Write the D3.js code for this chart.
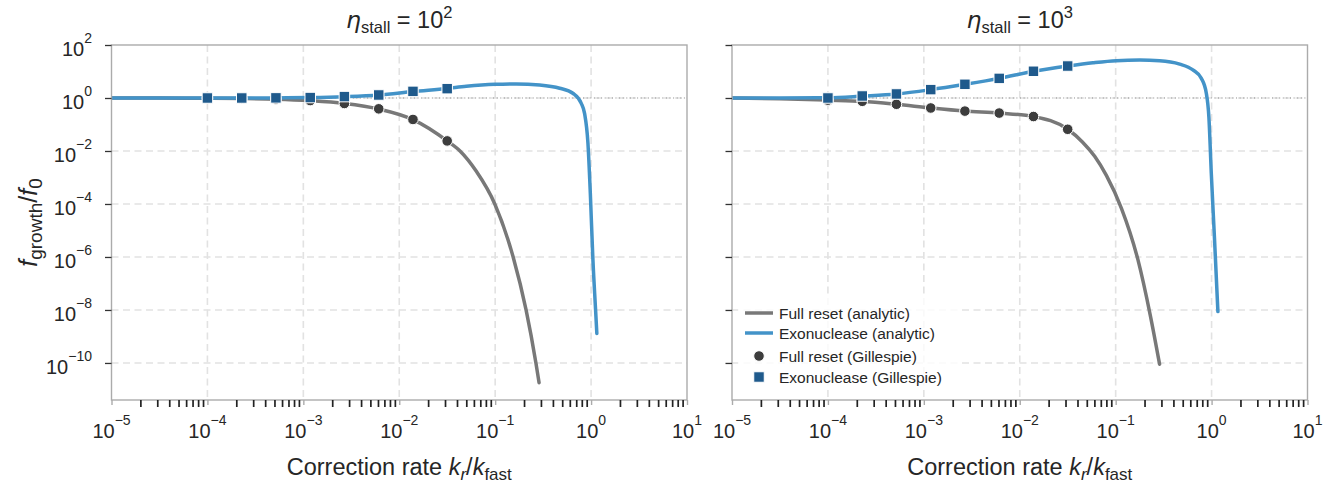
<!DOCTYPE html>
<html>
<head>
<meta charset="utf-8">
<script src="https://cdn.jsdelivr.net/npm/d3@7"></script>
<style>
  html, body { margin: 0; padding: 0; background: #ffffff; }
  svg { display: block; font-family: "Liberation Sans", Arial, sans-serif; }
</style>
</head>
<body>
<svg id="chart" width="1340" height="482"></svg>
<script>
// Axis decades
const xTickExponents = [-5, -4, -3, -2, -1, 0, 1];
const yTickExponents = [2, 0, -2, -4, -6, -8, -10];
const panelEtaExponents = [2, 3];

// Correction rates sampled by the stochastic (Gillespie) runs
const gillespieRates = [1.0e-4, 2.28e-4, 5.18e-4, 1.18e-3, 2.68e-3, 6.11e-3, 1.39e-2, 3.16e-2];

// eta_stall = 10^2 : analytic curves
const resetRates_eta2 = [1e-5, 3.16e-5, 1e-4, 2.28e-4, 5.18e-4, 1.18e-3, 2.68e-3, 6.11e-3, 1.39e-2, 3.16e-2, 4.3e-2, 6.31e-2, 9.91e-2, 0.154, 0.210, 0.266, 0.287];
const resetGrowth_eta2 = [0.998, 0.994, 0.98, 0.957, 0.906, 0.79, 0.62, 0.385, 0.153, 0.024, 1e-2, 1.78e-3, 1e-4, 1e-6, 1e-8, 1e-10, 1.8e-11];
const exoRates_eta2 = [1e-5, 1e-4, 2.28e-4, 5.18e-4, 1.18e-3, 2.68e-3, 6.11e-3, 1.39e-2, 3.16e-2, 5.0e-2, 0.1, 0.166, 0.291, 0.47, 0.645, 0.79, 0.855, 0.927, 0.982, 1.045, 1.114, 1.148];
const exoGrowth_eta2 = [1.0, 1.0, 1.003, 1.01, 1.04, 1.12, 1.29, 1.75, 2.3, 2.75, 3.27, 3.39, 3.09, 2.34, 1.51, 0.63, 0.263, 0.02, 2.5e-4, 7.9e-7, 1e-8, 1.3e-9];
// eta_stall = 10^2 : Gillespie estimates
const resetGillespie_eta2 = [0.99, 0.96, 0.91, 0.80, 0.62, 0.39, 0.155, 0.024];
const exoGillespie_eta2 = [1.0, 1.0, 1.01, 1.04, 1.13, 1.30, 1.78, 2.25];

// eta_stall = 10^3 : analytic curves
const resetRates_eta3 = [1e-5, 3.16e-5, 1e-4, 2.28e-4, 5.18e-4, 1.18e-3, 2.68e-3, 6.11e-3, 1.39e-2, 3.16e-2, 4.5e-2, 6.04e-2, 8.0e-2, 0.1146, 0.1706, 0.2296, 0.287];
const resetGrowth_eta3 = [0.99, 0.93, 0.83, 0.75, 0.58, 0.42, 0.32, 0.27, 0.20, 0.066, 0.022, 6.3e-3, 1.2e-3, 7e-5, 7.9e-7, 6.3e-9, 9e-11];
const exoRates_eta3 = [1e-5, 3.16e-5, 1e-4, 2.28e-4, 5.18e-4, 1.18e-3, 2.68e-3, 6.11e-3, 1.39e-2, 3.16e-2, 5.8e-2, 0.1016, 0.178, 0.287, 0.465, 0.638, 0.782, 0.881, 0.937, 0.993, 1.074, 1.164];
const exoGrowth_eta3 = [1.0, 1.0, 1.02, 1.18, 1.42, 2.07, 3.29, 5.5, 10.2, 16.1, 21.4, 25.7, 26.9, 25.7, 19.1, 11.5, 5.5, 1.51, 0.195, 1.45e-3, 4.4e-6, 8.7e-9];
// eta_stall = 10^3 : Gillespie estimates
const resetGillespie_eta3 = [0.83, 0.75, 0.58, 0.42, 0.32, 0.27, 0.20, 0.066];
const exoGillespie_eta3 = [1.0, 1.19, 1.42, 2.07, 3.29, 5.5, 10.2, 16.1];

const legendLabels = ["Full reset (analytic)", "Exonuclease (analytic)", "Full reset (Gillespie)", "Exonuclease (Gillespie)"];

// ---- styling ----
const COLORS = {
  reset: "#787878",
  exo: "#4393c8",
  resetMarker: "#3d3d3d",
  exoMarker: "#1f5a8c",
  grid: "#e2e2e2",
  frame: "#ababab",
  text: "#262626"
};

const zip = (xs, ys) => xs.map((v, i) => [v, ys[i]]);

const panels = [
  {
    left: 111.5, eta: panelEtaExponents[0], showYLabels: true,
    reset: zip(resetRates_eta2, resetGrowth_eta2),
    exo: zip(exoRates_eta2, exoGrowth_eta2),
    resetPts: zip(gillespieRates, resetGillespie_eta2),
    exoPts: zip(gillespieRates, exoGillespie_eta2),
    legend: false
  },
  {
    left: 732, eta: panelEtaExponents[1], showYLabels: false,
    reset: zip(resetRates_eta3, resetGrowth_eta3),
    exo: zip(exoRates_eta3, exoGrowth_eta3),
    resetPts: zip(gillespieRates, resetGillespie_eta3),
    exoPts: zip(gillespieRates, exoGillespie_eta3),
    legend: true
  }
];

const TOP = 45, W = 575.5, H = 355;

const x = d3.scaleLog().domain([1e-5, 10]).range([0, W]);
const y = d3.scaleLog().domain([4e-12, 100]).range([H, 0]);

const svg = d3.select("#chart");

const minorTicks = [];
xTickExponents.slice(0, -1).forEach(e => {
  for (let m = 2; m <= 9; m++) minorTicks.push(m * Math.pow(10, e));
});

const line = d3.line()
  .x(d => x(d[0]))
  .y(d => y(d[1]))
  .curve(d3.curveMonotoneX);

function powerLabel(sel, exp, mainSize, supSize, supShift) {
  sel.append("tspan").text("10").attr("font-size", mainSize);
  sel.append("tspan").text(exp < 0 ? "\u2212" + Math.abs(exp) : String(exp))
    .attr("font-size", supSize).attr("dy", -supShift);
}

panels.forEach((p, idx) => {
  const g = svg.append("g").attr("transform", `translate(${p.left},${TOP})`);

  const clipId = "clip" + idx;
  g.append("clipPath").attr("id", clipId)
    .append("rect").attr("x", 0).attr("y", 0).attr("width", W).attr("height", H);

  // dashed grid
  const grid = g.append("g");
  grid.selectAll("line.gx")
    .data(xTickExponents.slice(1, -1).map(e => Math.pow(10, e)))
    .join("line")
    .attr("x1", d => x(d)).attr("x2", d => x(d))
    .attr("y1", 0).attr("y2", H)
    .attr("stroke", COLORS.grid).attr("stroke-width", 1.6)
    .attr("stroke-dasharray", "7,4.5");
  grid.selectAll("line.gy")
    .data(yTickExponents.slice(1).map(e => Math.pow(10, e)))
    .join("line")
    .attr("x1", 0).attr("x2", W)
    .attr("y1", d => y(d)).attr("y2", d => y(d))
    .attr("stroke", COLORS.grid).attr("stroke-width", 1.6)
    .attr("stroke-dasharray", "7,4.5");

  // reference level f_growth = f_0
  g.append("line")
    .attr("x1", 0).attr("x2", W)
    .attr("y1", y(1)).attr("y2", y(1))
    .attr("stroke", "#808080").attr("stroke-width", 0.9)
    .attr("stroke-dasharray", "1,2.6");

  const plot = g.append("g").attr("clip-path", `url(#${clipId})`);

  plot.append("path").datum(p.reset)
    .attr("d", line).attr("fill", "none")
    .attr("stroke", COLORS.reset).attr("stroke-width", 3.5)
    .attr("stroke-linecap", "round");
  plot.append("path").datum(p.exo)
    .attr("d", line).attr("fill", "none")
    .attr("stroke", COLORS.exo).attr("stroke-width", 3.5)
    .attr("stroke-linecap", "round");

  plot.selectAll("circle.reset").data(p.resetPts).join("circle")
    .attr("cx", d => x(d[0])).attr("cy", d => y(d[1])).attr("r", 5.3)
    .attr("fill", COLORS.resetMarker).attr("stroke", "#ffffff").attr("stroke-width", 1);
  const S = 10.5;
  plot.selectAll("rect.exo").data(p.exoPts).join("rect")
    .attr("x", d => x(d[0]) - S / 2).attr("y", d => y(d[1]) - S / 2)
    .attr("width", S).attr("height", S)
    .attr("fill", COLORS.exoMarker).attr("stroke", "#ffffff").attr("stroke-width", 1);

  // frame
  g.append("rect").attr("x", 0).attr("y", 0).attr("width", W).attr("height", H)
    .attr("fill", "none").attr("stroke", COLORS.frame).attr("stroke-width", 1.4);

  // x axis: minor ticks (dark) and major ticks (spine colour)
  const xMinor = g.append("g").attr("transform", `translate(0,${H})`)
    .call(d3.axisBottom(x).tickValues(minorTicks).tickSize(7).tickFormat(""));
  xMinor.select(".domain").remove();
  xMinor.selectAll(".tick line").attr("stroke", "#222").attr("stroke-width", 1.7);

  const xMajor = g.append("g").attr("transform", `translate(0,${H})`)
    .call(d3.axisBottom(x).tickValues(xTickExponents.map(e => Math.pow(10, e))).tickSize(5).tickFormat(""));
  xMajor.select(".domain").remove();
  xMajor.selectAll(".tick line").attr("stroke", COLORS.frame).attr("stroke-width", 1.4);

  xTickExponents.forEach(e => {
    const t = g.append("text")
      .attr("x", x(Math.pow(10, e)))
      .attr("y", H + 38)
      .attr("text-anchor", "middle")
      .attr("fill", COLORS.text);
    powerLabel(t, e, 20, 14, 13);
  });

  // y axis ticks
  const yAx = g.append("g")
    .call(d3.axisLeft(y).tickValues(yTickExponents.map(e => Math.pow(10, e))).tickSize(6.5).tickFormat(""));
  yAx.select(".domain").remove();
  yAx.selectAll(".tick line").attr("stroke", "#333").attr("stroke-width", 1.3);

  if (p.showYLabels) {
    yTickExponents.forEach(e => {
      const t = g.append("text")
        .attr("x", -19.5)
        .attr("y", y(Math.pow(10, e)) + 11)
        .attr("text-anchor", "end")
        .attr("fill", COLORS.text);
      powerLabel(t, e, 20, 14, 13);
    });
  }

  // panel title
  const title = g.append("text")
    .attr("x", W / 2).attr("y", -17)
    .attr("text-anchor", "middle")
    .attr("fill", COLORS.text)
    .attr("font-size", 23.5);
  title.append("tspan").text("\u03B7").attr("font-style", "italic").attr("font-family", "DejaVu Sans");
  title.append("tspan").text("stall").attr("font-size", 16.5).attr("dy", 5);
  title.append("tspan").text(" = 10").attr("dy", -5);
  title.append("tspan").text(String(p.eta)).attr("font-size", 16.5).attr("dy", -10);

  // x axis title
  const xl = g.append("text")
    .attr("x", W / 2).attr("y", H + 75)
    .attr("text-anchor", "middle")
    .attr("fill", COLORS.text)
    .attr("font-size", 23.5);
  xl.append("tspan").text("Correction rate ");
  xl.append("tspan").text("k").attr("font-style", "italic");
  xl.append("tspan").text("r").attr("font-style", "italic").attr("font-size", 17).attr("dy", 4.5);
  xl.append("tspan").text("/").attr("dy", -4.5);
  xl.append("tspan").text("k").attr("font-style", "italic");
  xl.append("tspan").text("fast").attr("font-size", 17).attr("dy", 4.5);

  if (p.legend) {
    const lg = g.append("g").attr("transform", "translate(6,252)");
    lg.append("rect").attr("x", 0).attr("y", 0).attr("width", 220).attr("height", 92)
      .attr("fill", "#ffffff").attr("fill-opacity", 0.8);
    const rowY = [16, 36, 59, 80];
    lg.append("line").attr("x1", 7).attr("x2", 35).attr("y1", rowY[0]).attr("y2", rowY[0])
      .attr("stroke", COLORS.reset).attr("stroke-width", 3.5);
    lg.append("line").attr("x1", 7).attr("x2", 35).attr("y1", rowY[1]).attr("y2", rowY[1])
      .attr("stroke", COLORS.exo).attr("stroke-width", 3.5);
    lg.append("circle").attr("cx", 21).attr("cy", rowY[2]).attr("r", 5.3)
      .attr("fill", COLORS.resetMarker).attr("stroke", "#fff").attr("stroke-width", 1);
    lg.append("rect").attr("x", 21 - S / 2).attr("y", rowY[3] - S / 2).attr("width", S).attr("height", S)
      .attr("fill", COLORS.exoMarker).attr("stroke", "#fff").attr("stroke-width", 1);
    legendLabels.forEach((lab, i) => {
      lg.append("text").attr("x", 41).attr("y", rowY[i] + 5.5)
        .attr("font-size", 15.5).attr("fill", COLORS.text).text(lab);
    });
  }
});

// shared y axis title
const yl = svg.append("text")
  .attr("transform", `translate(37,${TOP + H / 2}) rotate(-90)`)
  .attr("text-anchor", "middle")
  .attr("fill", COLORS.text)
  .attr("font-size", 25);
yl.append("tspan").text("f").attr("font-style", "italic");
yl.append("tspan").text("growth").attr("font-size", 19).attr("dy", 5);
yl.append("tspan").text("/").attr("dy", -5);
yl.append("tspan").text("f").attr("font-style", "italic");
yl.append("tspan").text("0").attr("font-size", 19).attr("dy", 5);
</script>
</body>
</html>
